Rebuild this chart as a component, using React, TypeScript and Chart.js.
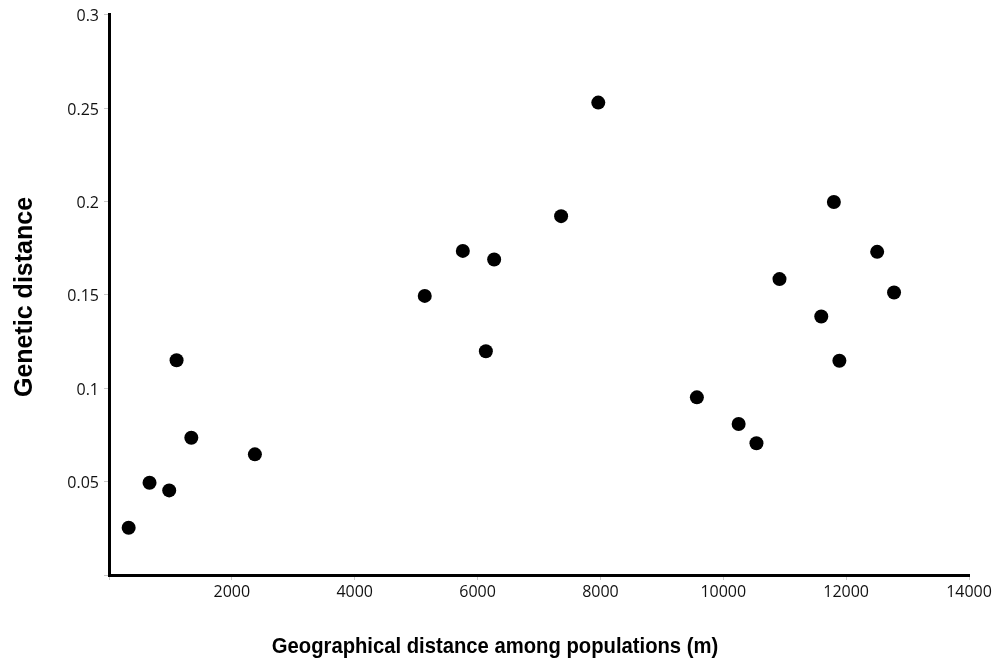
import React, { useEffect, useRef } from "react";
import { Chart, registerables } from "chart.js";

Chart.register(...registerables);

const geoDistance = [320, 660, 980, 1100, 1340, 2375, 5140, 5760, 6135, 6270, 7360, 7965, 9570, 10250, 10540, 10915, 11595, 11800, 11890, 12505, 12780];
const geneticDistance = [0.0253, 0.0494, 0.0453, 0.115, 0.0735, 0.0646, 0.1494, 0.1735, 0.1198, 0.1689, 0.1921, 0.2529, 0.0951, 0.0808, 0.0705, 0.1584, 0.1384, 0.1997, 0.1147, 0.173, 0.1512];

const xTitle = "Geographical distance among populations (m)";
const yTitle = "Genetic distance";

const titlePlugin = {
  id: "axisTitles",
  afterDraw(chart: any) {
    const ctx = chart.ctx;
    ctx.save();
    ctx.fillStyle = "#000";
    ctx.textAlign = "center";
    ctx.textBaseline = "middle";
    ctx.font = "bold 22px 'Liberation Sans', Arial, sans-serif";
    ctx.save();
    ctx.translate(495, 647);
    ctx.scale(0.92, 1);
    ctx.fillText(xTitle, 0, 0);
    ctx.restore();
    ctx.font = "bold 25px 'Liberation Sans', Arial, sans-serif";
    ctx.translate(25, 297);
    ctx.rotate(-Math.PI / 2);
    ctx.fillText(yTitle, 0, 0);
    ctx.restore();
  },
};

export default function App() {
  const ref = useRef<HTMLCanvasElement | null>(null);
  useEffect(() => {
    if (!ref.current) return;
    const points = geoDistance.map((x, i) => ({ x, y: geneticDistance[i] }));
    const tickFont = { family: "'Open Sans', sans-serif", size: 16 };
    const chart = new Chart(ref.current, {
      type: "scatter",
      data: {
        datasets: [
          {
            data: points,
            backgroundColor: "#000",
            borderWidth: 0,
            pointRadius: 7,
            pointHoverRadius: 7,
          },
        ],
      },
      options: {
        animation: false,
        responsive: false,
        maintainAspectRatio: false,
        layout: { padding: { top: 14, right: 34, left: 0, bottom: 0 } },
        plugins: { legend: { display: false }, tooltip: { enabled: false } },
        scales: {
          x: {
            type: "linear",
            min: 0,
            max: 14000,
            afterFit: (s: any) => {
              s.height = 86;
            },
            border: { color: "#000", width: 3 },
            grid: { drawOnChartArea: false, tickLength: 5, color: "#c8c8c8", lineWidth: 1 },
            ticks: {
              stepSize: 2000,
              color: "#111",
              font: tickFont,
              padding: 3,
              maxRotation: 0,
              callback: (v: any) => (v === 0 ? "" : String(v)),
            },
          },
          y: {
            type: "linear",
            min: 0,
            max: 0.3,
            afterFit: (s: any) => {
              s.width = 109;
            },
            border: { color: "#000", width: 3 },
            grid: { drawOnChartArea: false, tickLength: 5, color: "#c8c8c8", lineWidth: 1 },
            ticks: {
              stepSize: 0.05,
              color: "#111",
              font: tickFont,
              padding: 5,
              labelOffset: 2,
              callback: (v: any) => (v === 0 ? "" : String(Number(Number(v).toFixed(2)))),
            },
          },
        },
      },
      plugins: [titlePlugin],
    });
    return () => chart.destroy();
  }, []);
  return (
    <div style={{ position: "fixed", left: 0, top: 0, width: 1003, height: 661, background: "#fff" }}>
      <canvas ref={ref} width={1003} height={661} style={{ width: 1003, height: 661 }} />
    </div>
  );
}
